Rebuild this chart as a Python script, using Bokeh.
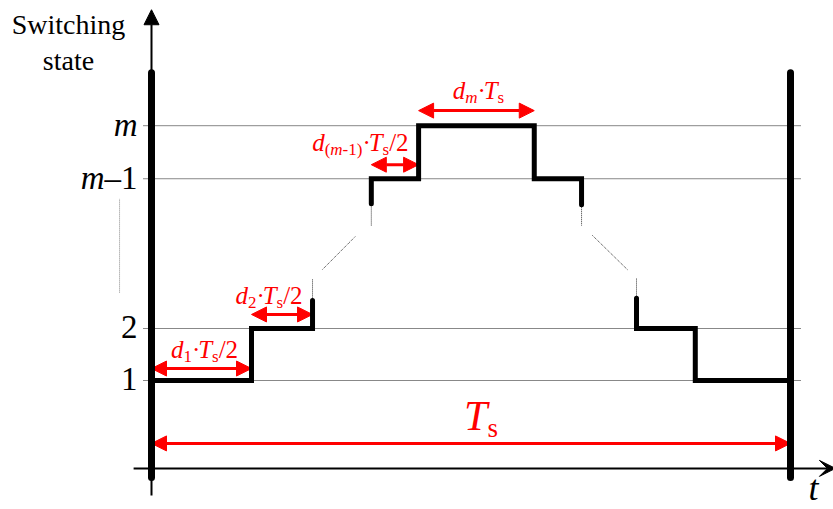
from bokeh.plotting import figure
from bokeh.models import Range1d, Arrow, NormalHead, VeeHead
from bokeh.core.properties import value
from bokeh.embed import file_html
from bokeh.resources import INLINE

# ---------------- data ----------------
# Switching levels marked on the vertical axis
level_labels = ["1", "2", "m–1", "m"]
level_states = [1.0, 2.0, 4.88, 5.9]

# Transition instants over one switching period (units of Ts)
edges = [0.0, 0.1565, 0.252, 0.344, 0.418, 0.599, 0.673, 0.759, 0.851, 1.0]

# States where the drawn staircase breaks off into the omitted levels
break_states = [2.54, 4.40, 4.38, 2.58]

# Dotted strokes bridging the omitted levels
gap_t = [[0.252, 0.252], [0.2676, 0.319], [0.344, 0.344],
         [0.673, 0.673], [0.690, 0.745], [0.759, 0.759]]
gap_s = [[2.54, 2.96], [3.135, 3.77], [3.98, 4.40],
         [4.38, 3.98], [3.79, 3.13], [2.96, 2.58]]

# Duration arrows: (start edge index, end edge index) and the state height
span_edges = [(0, 1), (1, 2), (3, 4), (4, 5), (0, 9)]
span_states = [1.23, 2.27, 5.15, 6.19, -0.21]

# ---------------- layout ----------------
W, H = 833, 509
PX_T, PX_S = 639.0, 52.0          # pixels per Ts and per state step
X0_PX, Y1_PX = 151.0, 380.0        # pixel position of t=0 and state 1

x_lo = -X0_PX / PX_T
x_hi = (W - X0_PX) / PX_T
y_lo = 1 - (H - Y1_PX) / PX_S
y_hi = 1 + Y1_PX / PX_S

p = figure(width=W, height=H, x_range=Range1d(x_lo, x_hi), y_range=Range1d(y_lo, y_hi),
           x_axis_type=None, y_axis_type=None, toolbar_location=None,
           output_backend="svg", min_border=0, outline_line_color=None,
           background_fill_color="white", border_fill_color="white")

L1, L2, Lm1, Lm = level_states
t = edges
AXIS_S = -0.69                     # height of the time axis

# dotted reference lines at each labelled level
p.segment(x0=[-0.0125] * 4, x1=[1.0157] * 4, y0=level_states, y1=level_states,
          line_color="#111111", line_width=1, line_dash="1 1")

# faint vertical ellipsis between the level labels
p.segment(x0=[-0.05], x1=[-0.05], y0=[2.69], y1=[4.5],
          line_color="#888888", line_width=1, line_dash="1 1")

# omitted-level bridges
p.multi_line(xs=gap_t, ys=gap_s, line_color="#333333", line_width=1, line_dash="1 1")

# duration arrows (under the waveform so the tips tuck against it)
for (a, b), s in zip(span_edges, span_states):
    p.add_layout(Arrow(x_start=t[a], y_start=s, x_end=t[b], y_end=s,
                       line_color="#ff0000", line_width=3, level="underlay",
                       start=NormalHead(size=15, fill_color="#ff0000", line_color="#ff0000", line_width=1),
                       end=NormalHead(size=15, fill_color="#ff0000", line_color="#ff0000", line_width=1)))

# axes with arrowheads
p.add_layout(Arrow(x_start=0.0, y_start=-1.21, x_end=0.0, y_end=8.13,
                   line_color="black", line_width=2,
                   end=NormalHead(size=15, fill_color="black", line_color="black", line_width=1)))
p.add_layout(Arrow(x_start=-0.028, y_start=AXIS_S, x_end=x_hi + 0.003, y_end=AXIS_S,
                   line_color="black", line_width=2,
                   end=VeeHead(size=16, fill_color="black", line_color="black", line_width=1)))

# staircase waveform
rise_t = [t[0], t[1], t[1], t[2], t[2]]
rise_s = [L1, L1, L2, L2, break_states[0]]
top_t = [t[3], t[3], t[4], t[4], t[5], t[5], t[6], t[6]]
top_s = [break_states[1], Lm1, Lm1, Lm, Lm, Lm1, Lm1, break_states[2]]
fall_t = [t[7], t[7], t[8], t[8], t[9]]
fall_s = [break_states[3], L2, L2, L1, L1]
p.multi_line(xs=[rise_t, top_t, fall_t], ys=[rise_s, top_s, fall_s],
             line_color="black", line_width=5, line_join="miter", line_cap="round")

# period boundaries
p.segment(x0=[t[0], t[-1]], x1=[t[0], t[-1]], y0=[-0.865] * 2, y1=[6.92] * 2,
          line_color="black", line_width=7, line_cap="round")

# ---------------- text ----------------
EM = {
    "normal": {"1": 0.5, "2": 0.5, "s": 0.389, "(": 0.333, ")": 0.333, "-": 0.333,
               "/": 0.278, "·": 0.25, "–": 0.5},
    "italic": {"d": 0.5, "T": 0.556, "m": 0.722, "t": 0.278},
}
MID_TO_BASE = 0.337   # distance from the font-box middle to the baseline, in em


def new_src():
    return {"x": [], "y": [], "text": [], "xo": [], "yo": [], "size": [], "style": []}


def rich(src, x, y, pieces, dx=0.0, dy=0.0, align="center"):
    """Lay out a run of styled pieces (text, style, px size, drop) on a shared baseline."""
    widths = [sum(EM[st][c] for c in txt) * sz for txt, st, sz, _ in pieces]
    total = sum(widths)
    start = dx - {"center": total / 2, "right": total, "left": 0}[align]
    for (txt, st, sz, drop), w in zip(pieces, widths):
        src["x"].append(x)
        src["y"].append(y)
        src["text"].append(txt)
        src["xo"].append(start)
        src["yo"].append(dy + drop - MID_TO_BASE * sz)
        src["size"].append(f"{sz}px")
        src["style"].append(st)
        start += w


red = new_src()
SZ, SUB, DROP = 25, 17, 5
rich(red, (t[0] + t[1]) / 2, span_states[0],
     [("d", "italic", SZ, 0), ("1", "normal", SUB, DROP), ("·", "normal", SZ, 0),
      ("T", "italic", SZ, 0), ("s", "normal", SUB, DROP), ("/2", "normal", SZ, 0)],
     dx=3, dy=-11)
rich(red, (t[1] + t[2]) / 2, span_states[1],
     [("d", "italic", SZ, 0), ("2", "normal", SUB, DROP), ("·", "normal", SZ, 0),
      ("T", "italic", SZ, 0), ("s", "normal", SUB, DROP), ("/2", "normal", SZ, 0)],
     dx=-13, dy=-11)
rich(red, t[4], span_states[2],
     [("d", "italic", SZ, 0), ("(", "normal", SUB, DROP), ("m", "italic", SUB, DROP),
      ("-1)", "normal", SUB, DROP), ("·", "normal", SZ, 0),
      ("T", "italic", SZ, 0), ("s", "normal", SUB, DROP), ("/2", "normal", SZ, 0)],
     dx=-10, dy=-14, align="right")
rich(red, (t[4] + t[5]) / 2, span_states[3],
     [("d", "italic", SZ, 0), ("m", "italic", SUB, DROP), ("·", "normal", SZ, 0),
      ("T", "italic", SZ, 0), ("s", "normal", SUB, DROP)],
     dx=2, dy=-12)
rich(red, (t[0] + t[-1]) / 2, span_states[4],
     [("T", "italic", 42, 0), ("s", "normal", 27, 7)],
     dx=10, dy=-13)

black = new_src()
for lab, s in zip(level_labels, level_states):
    if lab.startswith("m"):
        pieces = [("m", "italic", 33, 0)] + ([(lab[1:], "normal", 33, 0)] if len(lab) > 1 else [])
    else:
        pieces = [(lab, "normal", 33, 0)]
    rich(black, 0.0, s, pieces, dx=-14, dy=10, align="right")
# time-axis name
rich(black, t[-1], AXIS_S, [("t", "italic", 36, 0)], dx=18, dy=32, align="left")

# vertical-axis title, two lines
TITLE_SZ = 28
title_x = [-83 / PX_T] * 2
title_y = [1 + (Y1_PX - 33) / PX_S, 1 + (Y1_PX - 69) / PX_S]

FONT = value("Liberation Serif")
for src, col in ((red, "#ff0000"), (black, "black")):
    p.text(x="x", y="y", text="text", x_offset="xo", y_offset="yo",
           text_font_size="size", text_font_style="style", source=src,
           text_font=FONT, text_color=col, text_align="left", text_baseline="alphabetic")

p.text(x=title_x, y=title_y, text=["Switching", "state"],
       y_offset=-MID_TO_BASE * TITLE_SZ,
       text_font=FONT, text_font_size=f"{TITLE_SZ}px", text_color="black",
       text_align="center", text_baseline="alphabetic")

open("out.html", "w").write(file_html(p, INLINE))
